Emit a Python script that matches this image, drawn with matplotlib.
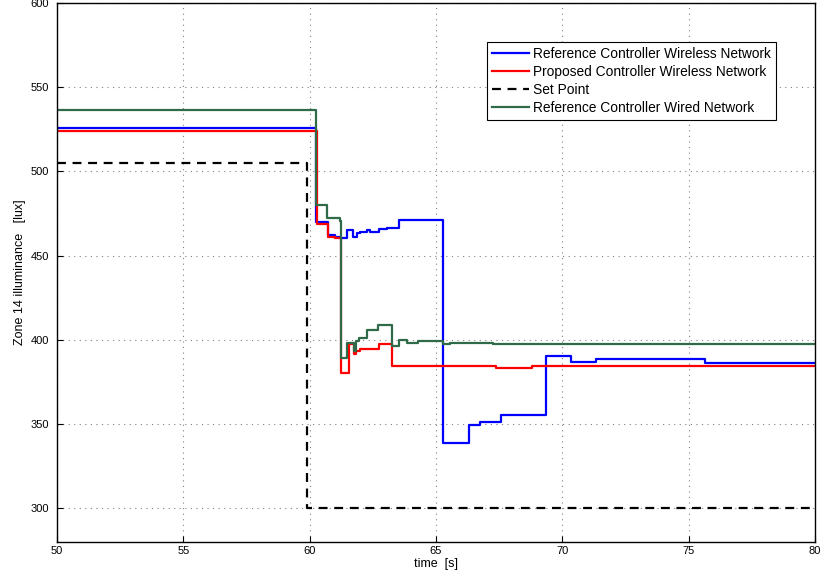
import matplotlib
matplotlib.use("Agg")
import matplotlib.pyplot as plt

plt.rcParams["font.family"] = ["Liberation Sans", "DejaVu Sans"]

# %% Data
t_ref_wireless = [50, 60.27, 60.74, 61.00, 61.26, 61.49, 61.73, 61.86, 61.99, 62.28,
                  62.40, 62.75, 63.05, 63.55, 65.26, 66.32, 66.74, 67.56, 69.35,
                  70.34, 71.33, 75.64, 80]
y_ref_wireless = [526.0, 469.8, 462.5, 461.3, 460.3, 465.5, 461.0, 463.3, 464.3, 465.0,
                  463.9, 465.9, 466.5, 471.4, 338.9, 349.4, 351.4, 355.4, 390.5,
                  386.9, 388.5, 386.3, 386.3]

t_prop_wireless = [50, 60.30, 60.74, 61.00, 61.26, 61.57, 61.77, 61.85, 61.99, 62.74,
                   63.27, 67.37, 68.78, 80]
y_prop_wireless = [523.8, 468.8, 461.3, 460.5, 380.6, 397.8, 391.6, 393.2, 394.6, 397.8,
                   384.5, 383.5, 384.5, 384.5]

t_setpoint = [50, 59.9, 80]
y_setpoint = [505.0, 300.0, 300.0]

t_ref_wired = [50, 60.27, 60.70, 61.20, 61.24, 61.49, 61.75, 61.82, 61.96, 62.25,
               62.71, 63.24, 63.55, 63.84, 64.30, 65.26, 65.55, 67.25, 80]
y_ref_wired = [536.3, 479.8, 472.4, 470.8, 389.5, 398.4, 393.5, 399.4, 401.0, 405.8,
               408.9, 396.4, 399.8, 398.4, 399.4, 397.4, 398.4, 397.8, 397.8]

x_ticks = [50, 55, 60, 65, 70, 75, 80]
y_ticks = [300, 350, 400, 450, 500, 550, 600]

# %% Plot
fig = plt.figure(figsize=(8.22, 5.75), dpi=100)
ax = fig.add_axes([0.0693, 0.0574, 0.9222, 0.9374])

ax.plot(t_ref_wireless, y_ref_wireless, drawstyle="steps-post", color="#0000ff",
        lw=1.6, label="Reference Controller Wireless Network")
ax.plot(t_prop_wireless, y_prop_wireless, drawstyle="steps-post", color="#ff0000",
        lw=1.6, label="Proposed Controller Wireless Network")
ax.plot(t_setpoint, y_setpoint, drawstyle="steps-post", color="black", lw=1.6,
        ls=(0, (4, 3)), label="Set Point")
ax.plot(t_ref_wired, y_ref_wired, drawstyle="steps-post", color="#2f6b48",
        lw=1.6, label="Reference Controller Wired Network")

ax.set_xlim(50, 80)
ax.set_ylim(280, 600)
ax.set_xticks(x_ticks)
ax.set_yticks(y_ticks)
ax.grid(True, color="#808080", ls=(0, (1, 4)), lw=0.8)
ax.tick_params(direction="in", labelsize=8, length=4, pad=6)
ax.tick_params(axis="x", pad=3)
for s in ax.spines.values():
    s.set_linewidth(1.0)

ax.set_xlabel("time  [s]", fontsize=9, labelpad=1)
ax.set_ylabel("Zone 14 illuminance   [lux]", fontsize=9, labelpad=3)

leg = ax.legend(loc="upper left", bbox_to_anchor=(0.567, 0.928), fontsize=9.9,
                fancybox=False, framealpha=1, edgecolor="black",
                handlelength=2.7, handletextpad=0.3, borderpad=0.35,
                labelspacing=0.3, borderaxespad=0)
leg.get_frame().set_linewidth(0.8)

fig.savefig("out.png", dpi=100)
